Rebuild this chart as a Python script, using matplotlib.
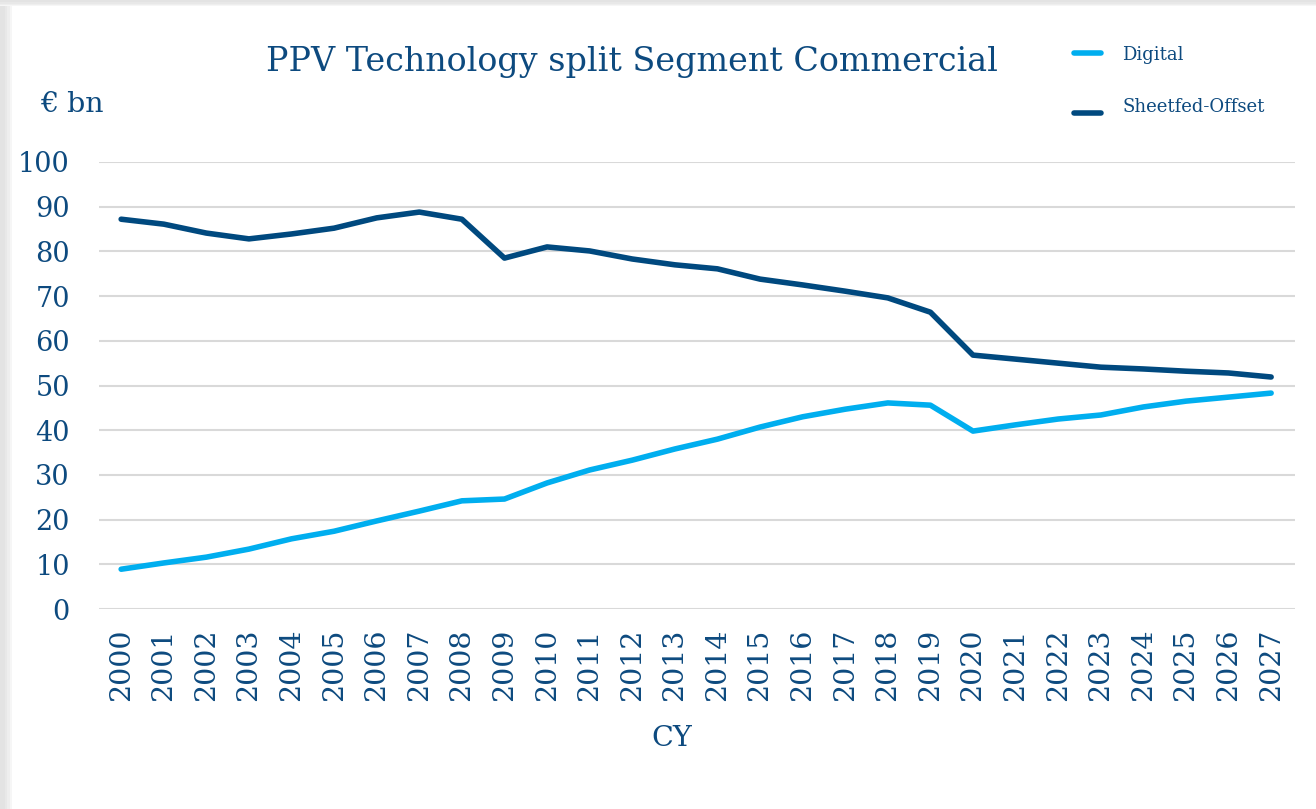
import matplotlib
matplotlib.use("Agg")
import matplotlib.pyplot as plt
from matplotlib.lines import Line2D
from matplotlib.patches import Rectangle

years = [str(y) for y in range(2000, 2028)]
digital = [8.9, 10.3, 11.6, 13.4, 15.7, 17.4, 19.7, 21.9, 24.2, 24.6,
           28.2, 31.1, 33.3, 35.8, 38.0, 40.7, 43.0, 44.7, 46.1, 45.6,
           39.8, 41.2, 42.5, 43.4, 45.2, 46.5, 47.4, 48.3]
sheetfed = [87.2, 86.1, 84.1, 82.8, 83.9, 85.2, 87.5, 88.8, 87.2, 78.5,
            81.0, 80.1, 78.3, 77.0, 76.1, 73.8, 72.5, 71.1, 69.6, 66.4,
            56.8, 55.9, 55.0, 54.1, 53.7, 53.2, 52.8, 51.9]
yticks = [0, 10, 20, 30, 40, 50, 60, 70, 80, 90, 100]
series_names = ["Digital", "Sheetfed-Offset"]

TEXT = "#0D4A7F"
C_DIG = "#00AEEF"
C_SHEET = "#00497F"
FONT = "DejaVu Serif"

W, H = 1316, 809
fig = plt.figure(figsize=(W / 100, H / 100), dpi=100)
fig.patch.set_facecolor("white")

# soft frame shadow at top / left
for i, a in enumerate([0.035, 0.03, 0.025, 0.02]):
    fig.patches.append(Rectangle((0, 1 - (6 - i * 1.2) / H), 1, (6 - i * 1.2) / H,
                                 transform=fig.transFigure, color="#000000",
                                 alpha=a, lw=0, zorder=0))
    fig.patches.append(Rectangle((0, 0), (12 - i * 2.5) / W, 1 - 6 / H,
                                 transform=fig.transFigure, color="#000000",
                                 alpha=a, lw=0, zorder=0))

left, right = 99 / W, 1295 / W
top, bottom = 1 - 162 / H, 1 - 609 / H
ax = fig.add_axes([left, bottom, right - left, top - bottom])

x = list(range(len(years)))
ax.plot(x, digital, color=C_DIG, lw=4.0, solid_capstyle="round",
        solid_joinstyle="round", zorder=3)
ax.plot(x, sheetfed, color=C_SHEET, lw=4.0, solid_capstyle="round",
        solid_joinstyle="round", zorder=3)

ax.set_xlim(-0.52, 27.56)
ax.set_ylim(0, 100)
ax.set_yticks(yticks)
ax.set_yticklabels([str(v) for v in yticks], fontsize=19.5, color=TEXT,
                   family=FONT)
ax.set_xticks(x)
ax.set_xticklabels(years, rotation=90, fontsize=20.5, color=TEXT, family=FONT)
ax.tick_params(axis="both", length=0)
ax.tick_params(axis="y", pad=21)
ax.tick_params(axis="x", pad=14)
ax.grid(axis="y", color="#D9D9D9", lw=1.5)
ax.set_axisbelow(True)
for s in ax.spines.values():
    s.set_visible(False)

fig.text(632 / W, 1 - 62 / H, "PPV Technology split Segment Commercial",
         ha="center", va="center", fontsize=24, color=TEXT, family=FONT)
fig.text(40 / W, 1 - 105 / H, "€ bn", ha="left", va="center", fontsize=20.5,
         color=TEXT, family=FONT)
fig.text(672 / W, 1 - 738 / H, "CY", ha="center", va="center", fontsize=20.5,
         color=TEXT, family=FONT)

# legend
for (ly, ty, c, name) in [(53, 55, C_DIG, series_names[0]),
                          (113, 107, C_SHEET, series_names[1])]:
    fig.add_artist(Line2D([1074 / W, 1101 / W], [1 - ly / H, 1 - ly / H],
                          transform=fig.transFigure, color=c, lw=4.0,
                          solid_capstyle="round"))
    fig.text(1122 / W, 1 - ty / H, name, ha="left", va="center", fontsize=13,
             color=TEXT, family=FONT)

fig.savefig("out.png", dpi=100)
